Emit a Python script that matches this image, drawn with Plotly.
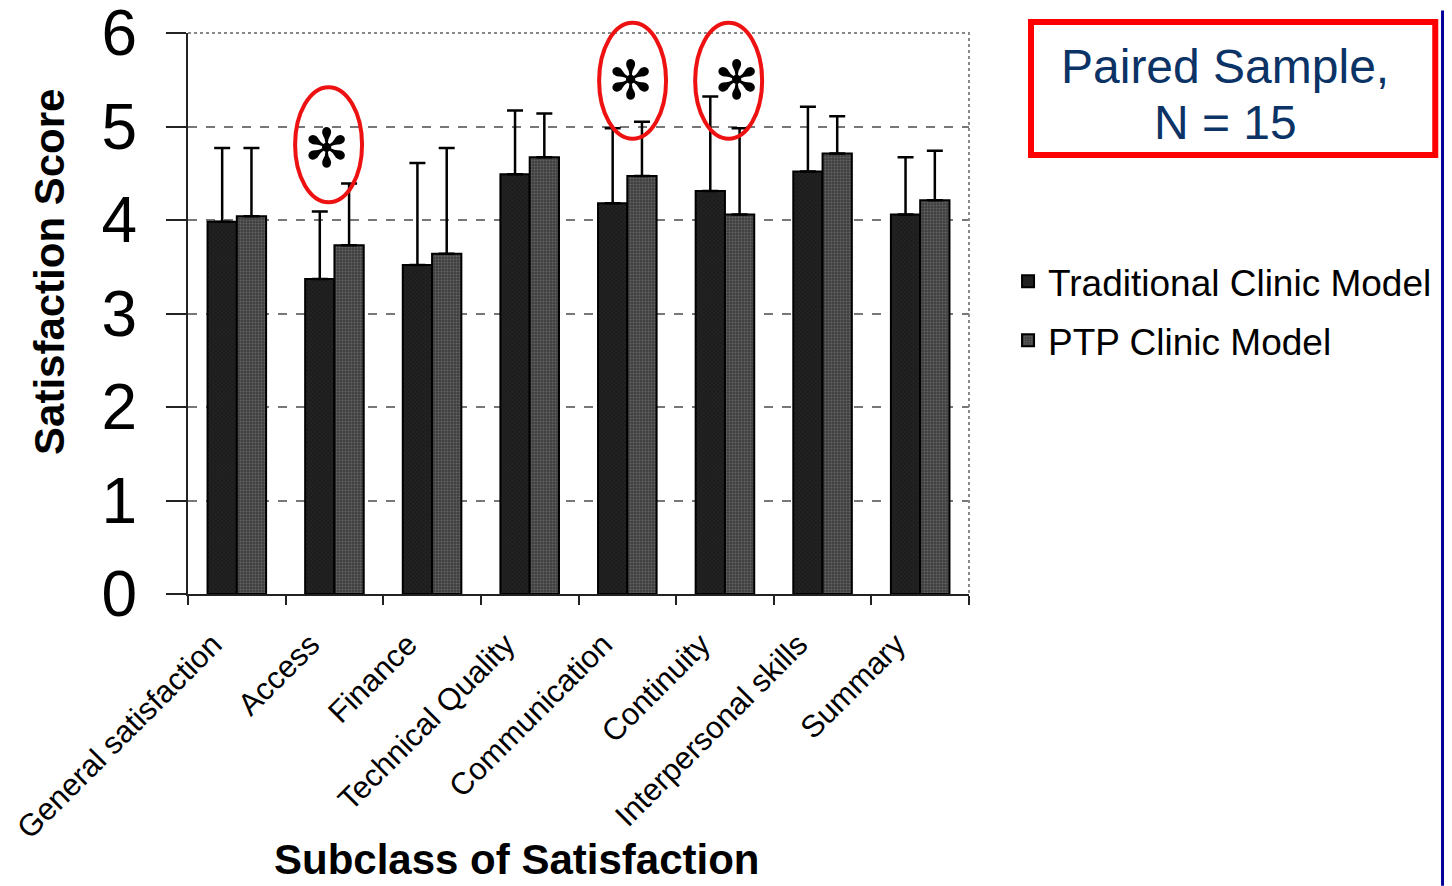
import plotly.graph_objects as go

categories = ["General satisfaction", "Access", "Finance", "Technical Quality",
              "Communication", "Continuity", "Interpersonal skills", "Summary"]
traditional = [3.98, 3.37, 3.52, 4.49, 4.18, 4.31, 4.52, 4.06]
traditional_upper = [4.77, 4.09, 4.61, 5.17, 4.98, 5.32, 5.21, 4.67]
ptp = [4.04, 3.73, 3.64, 4.67, 4.47, 4.06, 4.71, 4.21]
ptp_upper = [4.77, 4.39, 4.77, 5.14, 5.05, 4.98, 5.11, 4.74]
y_ticks = [0, 1, 2, 3, 4, 5, 6]

# significance markers (category index offset, y) and circle extents
star_x = [0.915, 4.03, 5.12]
star_y = [4.77, 5.49, 5.49]
ellipse_x = [(0.597, 1.283), (3.711, 4.397), (4.695, 5.381)]
ellipse_y = [(4.19, 5.42), (4.87, 6.11), (4.87, 6.11)]

FONT = "Liberation Sans, Arial, sans-serif"
YMAX = 6

fig = go.Figure()
fig.add_trace(go.Bar(
    x=categories, y=traditional, name="Traditional Clinic Model", legendgroup="a",
    marker=dict(color="#1c1c1c", line=dict(color="black", width=2),
                pattern=dict(shape="x", fgcolor="#3a3a3a", bgcolor="#1c1c1c", size=3, solidity=0.3)),
    error_y=dict(type="data", symmetric=False,
                 array=[u - v for u, v in zip(traditional_upper, traditional)],
                 arrayminus=[0] * len(traditional), color="black", thickness=2.5, width=8),
))
fig.add_trace(go.Bar(
    x=categories, y=ptp, name="PTP Clinic Model", legendgroup="b",
    marker=dict(color="#3e3e3e", line=dict(color="black", width=2),
                pattern=dict(shape=".", fgcolor="#8c8c8c", bgcolor="#3e3e3e", size=3, solidity=0.35)),
    error_y=dict(type="data", symmetric=False,
                 array=[u - v for u, v in zip(ptp_upper, ptp)],
                 arrayminus=[0] * len(ptp), color="black", thickness=2.5, width=8),
))

shapes = []
# dotted top / right frame
shapes.append(dict(type="path", xref="paper", yref="paper",
                   path="M 0 1 L 1 1 L 1 0", line=dict(color="#888888", width=2, dash="dot")))
for (x0, x1), (y0, y1) in zip(ellipse_x, ellipse_y):
    shapes.append(dict(type="circle", xref="x", yref="paper", x0=x0, x1=x1,
                       y0=y0 / YMAX, y1=y1 / YMAX, line=dict(color="#ee1111", width=4)))
# red box around sample note
shapes.append(dict(type="rect", xref="paper", yref="paper", x0=1.0794, x1=1.597,
                   y0=0.7825, y1=1.0196, line=dict(color="#ff0000", width=6)))
# blue right border
shapes.append(dict(type="rect", xref="paper", yref="paper", x0=1.6044, x1=1.62,
                   y0=-0.52, y1=1.04, fillcolor="#000099", line=dict(width=0)))

annotations = []
for sx, sy in zip(star_x, star_y):
    annotations.append(dict(x=sx, y=sy, xref="x", yref="y", text="✻", showarrow=False,
                            xanchor="center", yanchor="middle",
                            font=dict(family="DejaVu Sans", size=54, color="black")))
for txt, ty in [("Paired Sample,", 0.9394), ("N = 15", 0.8396)]:
    annotations.append(dict(x=1.328, y=ty, xref="paper", yref="paper", xanchor="center", yanchor="middle",
                            text=txt, showarrow=False,
                            font=dict(family=FONT, size=48, color="#0b3366")))
annotations.append(dict(x=-0.1767, y=0.574, xref="paper", yref="paper", text="<b>Satisfaction Score</b>",
                        xanchor="center", yanchor="middle",
                        textangle=-90, showarrow=False, font=dict(family=FONT, size=42, color="black")))
annotations.append(dict(x=0.42, y=-0.474, xref="paper", yref="paper", text="<b>Subclass of Satisfaction</b>",
                        xanchor="center", yanchor="middle",
                        showarrow=False, font=dict(family=FONT, size=42, color="black")))

fig.update_layout(
    width=1444, height=878,
    margin=dict(l=180, r=483, t=25, b=292, autoexpand=False),
    paper_bgcolor="white", plot_bgcolor="white",
    barmode="group", bargap=0.4, bargroupgap=0,
    font=dict(family=FONT, color="black"),
    showlegend=True,
    legend=dict(x=1.05, y=0.612, xanchor="left", yanchor="top",
                traceorder="grouped", tracegroupgap=8,
                font=dict(family=FONT, size=37, color="black"),
                bgcolor="rgba(0,0,0,0)", itemwidth=30),
    shapes=shapes, annotations=annotations,
)
fig.update_xaxes(
    automargin=False,
    showline=True, linecolor="#222222", linewidth=2,
    ticks="outside", tickson="boundaries", ticklen=9, tickcolor="#222222", tickwidth=2,
    tickangle=-45, tickfont=dict(family=FONT, size=31, color="black"),
    ticklabelstandoff=18, ticklabelshift=-24,
    showgrid=False, range=[-0.5, 7.5],
)
fig.update_yaxes(
    automargin=False, ticklabeloverflow="allow",
    range=[0, YMAX], tickvals=y_ticks, ticktext=[str(t) for t in y_ticks],
    showline=True, linecolor="#222222", linewidth=2,
    ticks="outside", ticklen=20, tickcolor="#222222", tickwidth=2,
    tickfont=dict(family=FONT, size=64, color="black"),
    showgrid=True, gridcolor="#777777", gridwidth=1.5, griddash="dash",
    zeroline=False, ticklabelstandoff=16,
)

fig.write_html("out.html")
